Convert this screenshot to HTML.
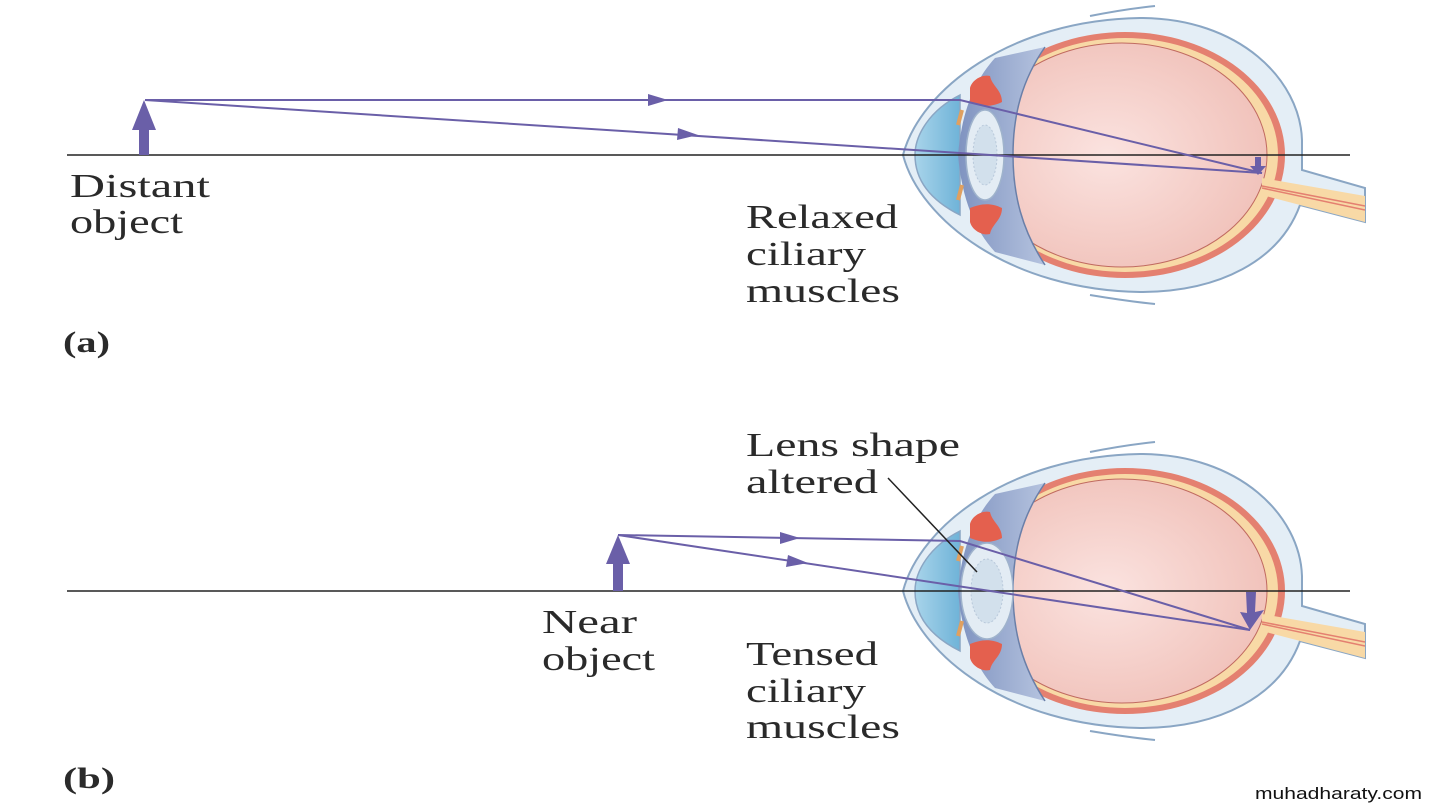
<!DOCTYPE html>
<html><head><style>
html,body{margin:0;padding:0;background:#fff;}
svg{display:block;}
text{font-family:"Liberation Serif",serif;fill:#2a2a2a;font-size:34px;}
</style></head><body>
<svg width="1430" height="806" viewBox="0 0 1430 806" xmlns="http://www.w3.org/2000/svg">
<defs>
<radialGradient id="vit" cx="0.45" cy="0.5" r="0.6"><stop offset="0" stop-color="#fbe3e0"/><stop offset="1" stop-color="#f0c0b8"/></radialGradient>
<linearGradient id="ant" x1="0" x2="1"><stop offset="0" stop-color="#7f93c0"/><stop offset="1" stop-color="#b5c3df"/></linearGradient>
<linearGradient id="cor" x1="0" x2="1"><stop offset="0" stop-color="#a8d4ea"/><stop offset="1" stop-color="#6fb3d8"/></linearGradient>
<g id="eye">
  <path d="M903,155 C920,90 1010,20 1140,18 C1240,18 1300,80 1302,140 L1302,170 L1365,188 L1365,222 L1300,205 C1280,260 1220,292 1140,292 C1010,290 920,220 903,155 Z" fill="#e4eef6" stroke="#8aa6c4" stroke-width="2"/>
  <path d="M1090,16 C1120,10 1145,7 1155,6 M1090,295 C1120,300 1145,303 1155,304" stroke="#8aa6c4" stroke-width="2" fill="none"/>
  <path d="M960,95 C930,110 915,135 915,155 C915,180 930,200 960,215 Z" fill="url(#cor)" stroke="#8aa6c4" stroke-width="1.5"/>
  <ellipse cx="1125" cy="155" rx="160" ry="123" fill="#e48070"/>
  <ellipse cx="1125" cy="155" rx="153" ry="117" fill="#f8d9a6"/>
  <ellipse cx="1122" cy="155" rx="145" ry="112" fill="url(#vit)" stroke="#c06a60" stroke-width="1"/>
  <path d="M995,58 C975,80 962,110 958,155 C962,200 975,230 995,252 L1045,265 C1022,230 1013,195 1013,155 C1013,115 1022,80 1045,47 Z" fill="url(#ant)"/>
  <path d="M1045,47 C1022,80 1013,115 1013,155 C1013,195 1022,230 1045,265" stroke="#6a7fa8" stroke-width="1.5" fill="none"/>
  <path d="M1262,178 L1365,196 L1365,222 L1262,195 Z" fill="#f8d9a6"/>
  <path d="M1262,186 L1365,206 M1262,188 L1365,210" stroke="#e48070" stroke-width="1.5"/>
  <ellipse cx="985" cy="155" rx="19" ry="45" fill="#e3ecf4" stroke="#9fb3cc" stroke-width="1.5"/>
  <ellipse cx="985" cy="155" rx="12" ry="30" fill="#d2e0ec" stroke="#b8c8da" stroke-dasharray="2 2"/>
  <path d="M970,88 C972,80 982,74 990,76 C992,86 1002,90 1002,102 C990,108 980,106 970,102 Z" fill="#e4604e"/>
  <path d="M970,222 C972,230 982,236 990,234 C992,224 1002,220 1002,208 C990,202 980,204 970,208 Z" fill="#e4604e"/>
  <path d="M962,110 L958,125 M962,185 L958,200" stroke="#e0a060" stroke-width="4"/>
</g>
</defs>
<use href="#eye"/>
<line x1="67" y1="155" x2="1350" y2="155" stroke="#222" stroke-width="1.5"/>
<rect x="139" y="128" width="10" height="27" fill="#6a5fa8"/>
<polygon points="144,100 132,130 156,130" fill="#6a5fa8"/>
<polyline points="145,100 960,100 1262,173" fill="none" stroke="#6a5fa8" stroke-width="2"/>
<polyline points="145,100 960,153 1262,173" fill="none" stroke="#6a5fa8" stroke-width="2"/>
<polygon points="668,100 648,94 648,106" fill="#6a5fa8"/>
<polygon points="698,135 678,128 677,140" fill="#6a5fa8"/>
<path d="M1255,157 L1255,166 L1250,166 L1258,175 L1266,166 L1261,166 L1261,157 Z" fill="#6a5fa8"/>
<text x="70" y="197" textLength="140" lengthAdjust="spacingAndGlyphs">Distant</text>
<text x="70" y="233" textLength="113" lengthAdjust="spacingAndGlyphs">object</text>
<text x="746" y="228" textLength="152" lengthAdjust="spacingAndGlyphs">Relaxed</text>
<text x="746" y="265" textLength="120" lengthAdjust="spacingAndGlyphs">ciliary</text>
<text x="746" y="302" textLength="154" lengthAdjust="spacingAndGlyphs">muscles</text>
<text x="63" y="352" font-weight="bold" textLength="47" lengthAdjust="spacingAndGlyphs" style="font-size:30px">(a)</text>
<use href="#eye" transform="translate(0,436)"/>
<ellipse cx="987" cy="591" rx="26" ry="48" fill="#e3ecf4" stroke="#9fb3cc" stroke-width="1.5"/>
<ellipse cx="987" cy="591" rx="16" ry="32" fill="#d2e0ec" stroke="#b8c8da" stroke-dasharray="2 2"/>
<line x1="67" y1="591" x2="1350" y2="591" stroke="#222" stroke-width="1.5"/>
<rect x="613" y="562" width="10" height="29" fill="#6a5fa8"/>
<polygon points="618,535 606,564 630,564" fill="#6a5fa8"/>
<polyline points="618,535 960,541 1250,630" fill="none" stroke="#6a5fa8" stroke-width="2"/>
<polyline points="618,535 1250,630" fill="none" stroke="#6a5fa8" stroke-width="2"/>
<polygon points="800,538 780,532 780,544" fill="#6a5fa8"/>
<polygon points="808,563 788,555 786,567" fill="#6a5fa8"/>
<line x1="888" y1="478" x2="977" y2="572" stroke="#222" stroke-width="1.5"/>
<path d="M1246,592 L1256,592 L1255,612 L1264,610 L1250,630 L1240,612 L1247,613 Z" fill="#6a5fa8"/>
<text x="746" y="456" textLength="214" lengthAdjust="spacingAndGlyphs">Lens shape</text>
<text x="746" y="493" textLength="132" lengthAdjust="spacingAndGlyphs">altered</text>
<text x="542" y="633" textLength="95" lengthAdjust="spacingAndGlyphs">Near</text>
<text x="542" y="670" textLength="113" lengthAdjust="spacingAndGlyphs">object</text>
<text x="746" y="665" textLength="132" lengthAdjust="spacingAndGlyphs">Tensed</text>
<text x="746" y="702" textLength="120" lengthAdjust="spacingAndGlyphs">ciliary</text>
<text x="746" y="738" textLength="154" lengthAdjust="spacingAndGlyphs">muscles</text>
<text x="63" y="788" font-weight="bold" textLength="52" lengthAdjust="spacingAndGlyphs" style="font-size:30px">(b)</text>
<text x="1255" y="799" textLength="167" lengthAdjust="spacingAndGlyphs" style="font-family:'Liberation Sans',sans-serif;font-size:17px;fill:#111">muhadharaty.com</text>
</svg>
</body></html>
